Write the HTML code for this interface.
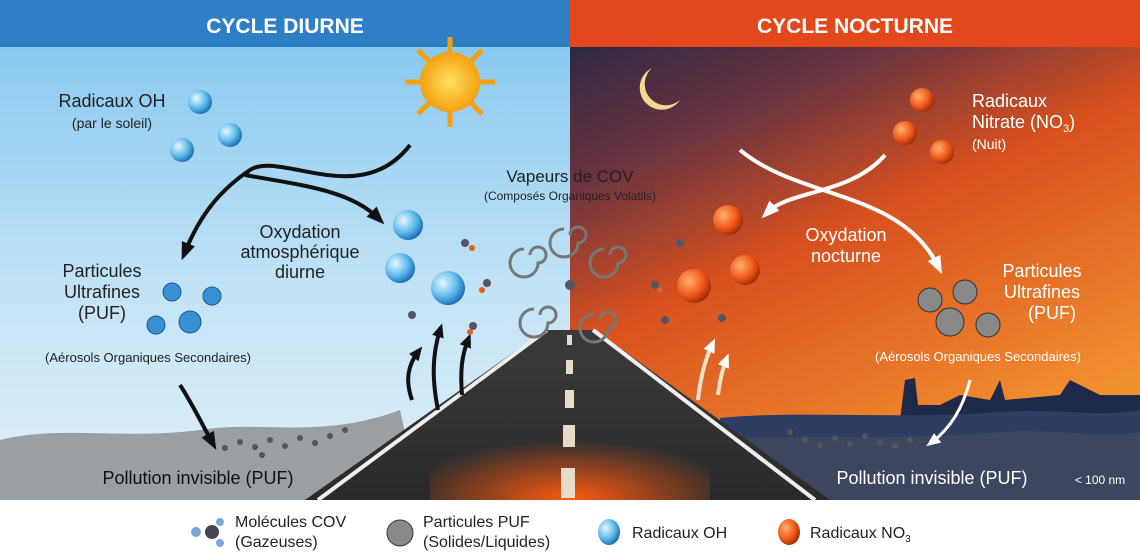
<!DOCTYPE html>
<html><head><meta charset="utf-8"><style>
html,body{margin:0;padding:0;background:#fff}
svg{display:block}
text{font-family:"Liberation Sans Narrow","Liberation Sans",sans-serif}
</style></head><body>
<svg width="1140" height="557" viewBox="0 0 1140 557" xmlns="http://www.w3.org/2000/svg">
<defs>
<linearGradient id="sky" x1="0" y1="0" x2="0" y2="1"><stop offset="0" stop-color="#7fc4ee"/><stop offset="0.6" stop-color="#c4e4f6"/><stop offset="1" stop-color="#dff0f8"/></linearGradient>
<linearGradient id="night" x1="0" y1="0" x2="0.5" y2="1"><stop offset="0" stop-color="#1c2444"/><stop offset="0.3" stop-color="#6a3440"/><stop offset="0.55" stop-color="#d8501e"/><stop offset="1" stop-color="#f29030"/></linearGradient>
<linearGradient id="road" x1="0" y1="0" x2="0" y2="1"><stop offset="0" stop-color="#3a3a3a"/><stop offset="1" stop-color="#2a2a2a"/></linearGradient>
<radialGradient id="glow" cx="0.5" cy="1" r="0.6"><stop offset="0" stop-color="#ff5a10"/><stop offset="1" stop-color="#ff5a10" stop-opacity="0"/></radialGradient>
<radialGradient id="oh" cx="0.35" cy="0.35" r="0.7"><stop offset="0" stop-color="#e8f8ff"/><stop offset="0.6" stop-color="#5ab8ea"/><stop offset="1" stop-color="#1a6ab0"/></radialGradient>
<radialGradient id="no3" cx="0.35" cy="0.35" r="0.7"><stop offset="0" stop-color="#ffb070"/><stop offset="0.6" stop-color="#f05a1a"/><stop offset="1" stop-color="#a02a08"/></radialGradient>
<radialGradient id="sun" cx="0.5" cy="0.5" r="0.5"><stop offset="0" stop-color="#ffe060"/><stop offset="1" stop-color="#f5a010"/></radialGradient>
<marker id="ab" markerUnits="userSpaceOnUse" markerWidth="18" markerHeight="18" refX="9" refY="9" orient="auto"><path d="M0,2 L18,9 L0,16 z" fill="#111"/></marker>
<marker id="aw" markerUnits="userSpaceOnUse" markerWidth="18" markerHeight="18" refX="9" refY="9" orient="auto"><path d="M0,2 L18,9 L0,16 z" fill="#fff"/></marker>
<marker id="as" markerUnits="userSpaceOnUse" markerWidth="14" markerHeight="14" refX="7" refY="7" orient="auto"><path d="M0,1 L14,7 L0,13 z" fill="#111"/></marker>
<marker id="aws" markerUnits="userSpaceOnUse" markerWidth="14" markerHeight="14" refX="7" refY="7" orient="auto"><path d="M0,1 L14,7 L0,13 z" fill="#fff"/></marker>
</defs>
<rect x="0" y="0" width="570" height="500" fill="url(#sky)"/>
<rect x="570" y="0" width="570" height="500" fill="url(#night)"/>
<rect x="0" y="0" width="570" height="47" fill="#2f7fc6"/>
<rect x="570" y="0" width="570" height="47" fill="#e2481c"/>
<text x="285" y="33" font-size="21" font-weight="bold" fill="#fff" text-anchor="middle">CYCLE DIURNE</text>
<text x="855" y="33" font-size="21" font-weight="bold" fill="#fff" text-anchor="middle">CYCLE NOCTURNE</text>
<!-- ground -->
<path d="M0,440 C60,425 120,440 200,430 C260,420 320,440 400,410 L420,500 L0,500z" fill="#9a9fa3"/>
<path d="M900,420 L905,380 L915,378 L918,405 L940,405 L960,395 L990,400 L1000,380 L1005,400 L1060,395 L1070,380 L1100,395 L1140,395 L1140,430 L900,430z" fill="#1e2a48"/>
<path d="M720,418 C800,410 900,420 1000,412 C1060,408 1100,418 1140,410 L1140,500 L720,500z" fill="#2e3d62"/>
<path d="M720,440 C800,432 900,442 1000,432 C1060,428 1100,440 1140,432 L1140,500 L720,500z" fill="#3c475f"/>
<!-- road -->
<path d="M305,500 L545,330 L595,330 L830,500z" fill="url(#road)"/>
<rect x="430" y="400" width="280" height="100" fill="url(#glow)"/>
<path d="M318,500 L547,330" stroke="#eee" stroke-width="4"/>
<path d="M815,500 L593,330" stroke="#eee" stroke-width="4"/>
<g fill="#e8dcc8"><rect x="567" y="335" width="5" height="10"/><rect x="566" y="360" width="7" height="14"/><rect x="565" y="390" width="9" height="18"/><rect x="563" y="425" width="12" height="22"/><rect x="561" y="468" width="14" height="30"/></g>
<!-- sun -->
<g transform="translate(450,82)"><g stroke="#f5a010" stroke-width="5">
<line x1="0" y1="-45" x2="0" y2="45"/><line x1="-45" y1="0" x2="45" y2="0"/><line x1="-32" y1="-32" x2="32" y2="32"/><line x1="-32" y1="32" x2="32" y2="-32"/></g>
<circle r="30" fill="url(#sun)"/></g>
<path d="M652,68 A22,22 0 1,0 680,100 A18,18 0 1,1 652,68z" fill="#f5d890"/>
<!-- radicals -->
<circle cx="200" cy="102" r="12" fill="url(#oh)"/><circle cx="230" cy="135" r="12" fill="url(#oh)"/><circle cx="182" cy="150" r="12" fill="url(#oh)"/>
<circle cx="922" cy="100" r="12" fill="url(#no3)"/><circle cx="905" cy="133" r="12" fill="url(#no3)"/><circle cx="942" cy="152" r="12" fill="url(#no3)"/>
<text x="112" y="107" font-size="18" fill="#222" text-anchor="middle">Radicaux OH</text>
<text x="112" y="128" font-size="14" fill="#222" text-anchor="middle">(par le soleil)</text>
<text x="972" y="107" font-size="18" fill="#fff">Radicaux</text>
<text x="972" y="128" font-size="18" fill="#fff">Nitrate (NO<tspan font-size="11" dy="4">3</tspan><tspan dy="-4">)</tspan></text>
<text x="972" y="149" font-size="14" fill="#fff">(Nuit)</text>
<!-- arrows -->
<path d="M410,145 C360,210 280,150 250,170 C220,190 200,215 185,252" fill="none" stroke="#111" stroke-width="4" marker-end="url(#ab)"/>
<path d="M245,175 C300,185 350,190 378,218" fill="none" stroke="#111" stroke-width="4" marker-end="url(#ab)"/>
<path d="M180,385 C190,400 200,420 212,442" fill="none" stroke="#111" stroke-width="4" marker-end="url(#ab)"/>
<path d="M885,155 C850,195 790,190 768,212" fill="none" stroke="#fff" stroke-width="4" marker-end="url(#aw)"/>
<path d="M740,150 C800,200 900,190 938,266" fill="none" stroke="#fff" stroke-width="4" marker-end="url(#aw)"/>
<path d="M970,380 C965,400 955,425 932,442" fill="none" stroke="#fff" stroke-width="3" marker-end="url(#aws)"/>
<path d="M412,400 C405,380 408,365 418,352" fill="none" stroke="#111" stroke-width="4" marker-end="url(#as)"/>
<path d="M438,410 C432,380 432,355 440,330" fill="none" stroke="#111" stroke-width="4" marker-end="url(#as)"/>
<path d="M462,395 C460,370 462,355 468,340" fill="none" stroke="#111" stroke-width="4" marker-end="url(#as)"/>
<path d="M698,400 C700,380 705,360 712,345" fill="none" stroke="#f5e0c8" stroke-width="4" marker-end="url(#aws)"/>
<path d="M718,395 C720,380 722,370 726,360" fill="none" stroke="#f5e0c8" stroke-width="4" marker-end="url(#aws)"/>
<!-- swirls -->
<g fill="none" stroke="#777" stroke-width="3">
<path d="M530,255 a8,8 0 1,1 8,8 a14,14 0 1,1 -14,-14"/><path d="M570,235 a8,8 0 1,1 8,8 a14,14 0 1,1 -14,-14"/><path d="M610,255 a8,8 0 1,1 8,8 a14,14 0 1,1 -14,-14"/>
<path d="M540,315 a8,8 0 1,1 8,8 a14,14 0 1,1 -14,-14"/><path d="M600,320 a8,8 0 1,1 8,8 a14,14 0 1,1 -14,-14"/></g>
<text x="570" y="182" font-size="17" fill="#222" text-anchor="middle">Vapeurs de COV</text>
<text x="570" y="200" font-size="12" fill="#222" text-anchor="middle">(Composés Organiques Volatils)</text>
<text x="300" y="238" font-size="18" fill="#222" text-anchor="middle">Oxydation</text>
<text x="300" y="258" font-size="18" fill="#222" text-anchor="middle">atmosphérique</text>
<text x="300" y="278" font-size="18" fill="#222" text-anchor="middle">diurne</text>
<text x="846" y="241" font-size="18" fill="#fff" text-anchor="middle">Oxydation</text>
<text x="846" y="262" font-size="18" fill="#fff" text-anchor="middle">nocturne</text>
<text x="102" y="277" font-size="18" fill="#222" text-anchor="middle">Particules</text>
<text x="102" y="298" font-size="18" fill="#222" text-anchor="middle">Ultrafines</text>
<text x="102" y="319" font-size="18" fill="#222" text-anchor="middle">(PUF)</text>
<text x="148" y="362" font-size="13" fill="#222" text-anchor="middle">(Aérosols Organiques Secondaires)</text>
<text x="1042" y="277" font-size="18" fill="#fff" text-anchor="middle">Particules</text>
<text x="1042" y="298" font-size="18" fill="#fff" text-anchor="middle">Ultrafines</text>
<text x="1052" y="319" font-size="18" fill="#fff" text-anchor="middle">(PUF)</text>
<text x="978" y="361" font-size="13" fill="#fff" text-anchor="middle">(Aérosols Organiques Secondaires)</text>
<!-- particle clusters -->
<g fill="#3a8fd0" stroke="#1a5a9a"><circle cx="172" cy="292" r="9"/><circle cx="212" cy="296" r="9"/><circle cx="156" cy="325" r="9"/><circle cx="190" cy="322" r="11"/></g>
<g fill="#888" stroke="#333"><circle cx="930" cy="300" r="12"/><circle cx="965" cy="292" r="12"/><circle cx="950" cy="322" r="14"/><circle cx="988" cy="325" r="12"/></g>
<!-- reaction bubbles -->
<g><circle cx="408" cy="225" r="15" fill="url(#oh)"/><circle cx="400" cy="268" r="15" fill="url(#oh)"/><circle cx="448" cy="288" r="17" fill="url(#oh)"/>
<circle cx="728" cy="220" r="15" fill="url(#no3)"/><circle cx="694" cy="286" r="17" fill="url(#no3)"/><circle cx="745" cy="270" r="15" fill="url(#no3)"/></g>
<g fill="#556"><circle cx="465" cy="243" r="4"/><circle cx="487" cy="283" r="4"/><circle cx="412" cy="315" r="4"/><circle cx="473" cy="326" r="4"/><circle cx="570" cy="285" r="5"/><circle cx="680" cy="243" r="4"/><circle cx="665" cy="320" r="4"/><circle cx="722" cy="318" r="4"/><circle cx="655" cy="285" r="4"/></g>
<g fill="#e0601f"><circle cx="472" cy="248" r="3"/><circle cx="482" cy="290" r="3"/><circle cx="470" cy="332" r="3"/><circle cx="660" cy="290" r="3"/></g>
<!-- ground particles -->
<g fill="#555"><circle cx="225" cy="448" r="3"/><circle cx="240" cy="442" r="3"/><circle cx="255" cy="447" r="3"/><circle cx="270" cy="440" r="3"/><circle cx="285" cy="446" r="3"/><circle cx="300" cy="438" r="3"/><circle cx="315" cy="443" r="3"/><circle cx="330" cy="436" r="3"/><circle cx="345" cy="430" r="3"/><circle cx="262" cy="455" r="3"/>
<circle cx="790" cy="432" r="3"/><circle cx="805" cy="440" r="3"/><circle cx="820" cy="445" r="3"/><circle cx="835" cy="438" r="3"/><circle cx="850" cy="444" r="3"/><circle cx="865" cy="436" r="3"/><circle cx="880" cy="442" r="3"/><circle cx="895" cy="446" r="3"/><circle cx="910" cy="440" r="3"/></g>
<text x="198" y="484" font-size="18" fill="#111" text-anchor="middle">Pollution invisible (PUF)</text>
<text x="932" y="484" font-size="18" fill="#fff" text-anchor="middle">Pollution invisible (PUF)</text>
<text x="1100" y="484" font-size="12" fill="#fff" text-anchor="middle">&lt; 100 nm</text>
<!-- legend -->
<g><circle cx="196" cy="532" r="5" fill="#7aa8d8"/><circle cx="212" cy="532" r="7" fill="#445"/><circle cx="220" cy="522" r="4" fill="#7aa8d8"/><circle cx="220" cy="543" r="4" fill="#7aa8d8"/></g>
<text x="235" y="527" font-size="16" fill="#222">Molécules COV</text><text x="235" y="547" font-size="16" fill="#222">(Gazeuses)</text>
<circle cx="400" cy="533" r="13" fill="#888" stroke="#333"/>
<text x="423" y="527" font-size="16" fill="#222">Particules PUF</text><text x="423" y="547" font-size="16" fill="#222">(Solides/Liquides)</text>
<ellipse cx="609" cy="532" rx="11" ry="13" fill="url(#oh)"/>
<text x="632" y="538" font-size="16" fill="#222">Radicaux OH</text>
<ellipse cx="789" cy="532" rx="11" ry="13" fill="url(#no3)"/>
<text x="810" y="538" font-size="16" fill="#222">Radicaux NO<tspan font-size="10" dy="4">3</tspan></text>
</svg>
</body></html>
